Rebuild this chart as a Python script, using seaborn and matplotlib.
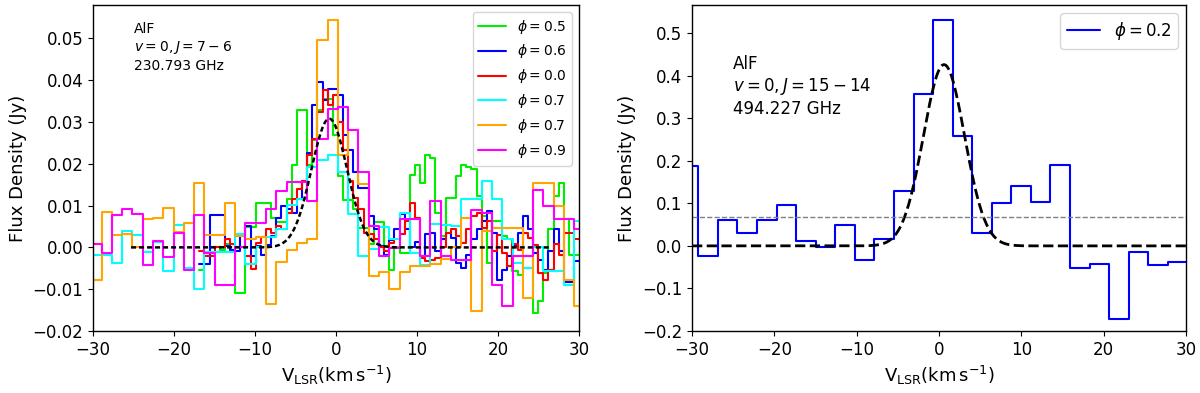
import numpy as np
import pandas as pd
import matplotlib
matplotlib.use("Agg")
import matplotlib.pyplot as plt
import seaborn as sns

# ---------------- data: left panel (AlF v=0, J=7-6) ----------------
# coarse channel grid (phi=0.7 cyan, phi=0.7 orange, phi=0.9 magenta)
v_coarse = [-29.56, -28.29, -27.02, -25.76, -24.49, -23.22, -21.95, -20.68,
            -19.42, -18.15, -16.88, -15.61, -14.34, -13.08, -11.81, -10.54,
            -9.27, -8.00, -6.74, -5.47, -4.20, -2.93, -1.66, -0.40,
            0.87, 2.14, 3.41, 4.68, 5.94, 7.21, 8.48, 9.75,
            11.02, 12.29, 13.55, 14.82, 16.09, 17.36, 18.62, 19.89,
            21.16, 22.43, 23.70, 24.96, 26.23, 27.50, 28.77, 30.04]

flux_cyan = [-0.0017, -0.0017, -0.0038, 0.0039, 0.0030, -0.0010, 0.0013, -0.0057,
             0.0053, -0.0049, -0.0099, -0.0010, -0.0010, -0.0010, 0.0031, -0.0039,
             0.0000, 0.0024, 0.0043, 0.0101, 0.0115, 0.0192, 0.0208, 0.0220,
             0.0180, 0.0079, -0.0021, -0.0003, 0.0049, 0.0020, 0.0083, -0.0013,
             -0.0041, 0.0055, 0.0053, 0.0051, 0.0115, 0.0115, 0.0160, 0.0117,
             0.0020, -0.0037, -0.0049, 0.0000, -0.0057, -0.0057, -0.0091, 0.0063]

flux_orange = [-0.0079, 0.0085, 0.0029, 0.0031, 0.0000, 0.0067, 0.0071, 0.0095,
               0.0038, 0.0058, 0.0155, 0.0030, 0.0030, 0.0106, 0.0027, 0.0020,
               0.0025, -0.0135, -0.0034, -0.0006, 0.0010, 0.0020, 0.0496, 0.0544,
               0.0222, 0.0280, 0.0151, -0.0069, -0.0059, -0.0099, -0.0059, -0.0045,
               -0.0045, -0.0040, -0.0027, 0.0000, 0.0071, -0.0151, 0.0040, 0.0047,
               0.0047, 0.0047, -0.0121, 0.0155, 0.0155, 0.0099, -0.0077, -0.0140]

flux_magenta = [0.0009, -0.0013, 0.0077, 0.0091, 0.0079, -0.0042, 0.0015, -0.0023,
                0.0034, -0.0053, 0.0078, -0.0013, -0.0089, -0.0089, 0.0000, 0.0058,
                0.0058, 0.0093, 0.0135, 0.0157, 0.0157, 0.0111, 0.0260, 0.0330,
                0.0336, 0.0280, 0.0180, 0.0051, -0.0020, -0.0002, 0.0069, 0.0069,
                -0.0020, 0.0111, -0.0020, -0.0029, -0.0029, 0.0090, 0.0083, -0.0089,
                -0.0139, -0.0020, -0.0020, 0.0138, 0.0099, 0.0067, 0.0067, 0.0043]

# fine channel grid (phi=0.5 green, phi=0.6 blue, phi=0.0 red)
v_fine = [-16.57, -15.93, -15.30, -14.66, -14.03, -13.40, -12.76, -12.13, -11.49, -10.86,
          -10.23, -9.59, -8.96, -8.32, -7.69, -7.06, -6.42, -5.79, -5.15, -4.52,
          -3.89, -3.25, -2.62, -1.98, -1.35, -0.72, -0.08, 0.55, 1.19, 1.82,
          2.45, 3.09, 3.72, 4.36, 4.99, 5.62, 6.26, 6.89, 7.53, 8.16,
          8.79, 9.43, 10.06, 10.70, 11.33, 11.96, 12.60, 13.23, 13.87, 14.50,
          15.13, 15.77, 16.40, 17.04, 17.67, 18.30, 18.94, 19.57, 20.21, 20.84,
          21.47, 22.11, 22.74, 23.38, 24.01, 24.64, 25.28, 25.91, 26.55, 27.18,
          27.81, 28.45, 29.08, 29.72]

flux_green = [-0.0053, -0.0010, 0.0000, 0.0000, -0.0005, 0.0008, -0.0005, -0.0110, -0.0110, 0.0050,
              0.0050, 0.0106, 0.0106, 0.0106, 0.0071, 0.0060, 0.0060, 0.0115, 0.0196, 0.0328,
              0.0328, 0.0196, 0.0256, 0.0328, 0.0356, 0.0356, 0.0268, 0.0171, 0.0113, 0.0113,
              0.0093, 0.0047, 0.0047, 0.0007, 0.0060, 0.0060, 0.0003, -0.0053, 0.0000, -0.0013,
              -0.0013, 0.0173, 0.0196, 0.0155, 0.0220, 0.0213, 0.0083, 0.0027, 0.0119, 0.0119,
              0.0171, 0.0198, 0.0192, 0.0188, 0.0123, 0.0075, -0.0037, 0.0063, 0.0063, 0.0027,
              0.0019, -0.0057, -0.0065, -0.0021, -0.0021, -0.0157, -0.0129, -0.0061, 0.0043, 0.0123,
              0.0155, 0.0067, -0.0017, -0.0017]

flux_blue = [-0.0040, -0.0040, 0.0077, 0.0077, 0.0077, 0.0003, -0.0005, -0.0009, 0.0027, 0.0051,
             -0.0021, 0.0003, -0.0019, 0.0005, 0.0027, 0.0071, 0.0098, 0.0093, 0.0083, 0.0115,
             0.0160, 0.0226, 0.0341, 0.0396, 0.0352, 0.0378, 0.0380, 0.0364, 0.0268, 0.0232,
             0.0180, 0.0141, 0.0141, 0.0075, 0.0043, 0.0003, -0.0019, 0.0018, 0.0043, 0.0079,
             0.0043, 0.0000, 0.0013, -0.0021, 0.0031, 0.0035, -0.0009, 0.0019, 0.0035, 0.0023,
             -0.0037, -0.0049, -0.0017, 0.0019, 0.0043, 0.0063, 0.0087, 0.0035, -0.0077, -0.0053,
             -0.0021, 0.0003, 0.0035, 0.0074, 0.0043, -0.0013, -0.0029, -0.0053, -0.0009, 0.0045,
             -0.0009, -0.0083, -0.0083, -0.0033]

flux_red = [-0.0009, -0.0021, -0.0021, 0.0000, 0.0002, 0.0019, 0.0007, 0.0000, 0.0000, -0.0021,
            -0.0051, 0.0011, 0.0026, 0.0043, 0.0035, 0.0051, 0.0043, 0.0083, 0.0115, 0.0139,
            0.0160, 0.0220, 0.0260, 0.0324, 0.0376, 0.0340, 0.0364, 0.0300, 0.0232, 0.0160,
            0.0119, 0.0091, 0.0035, 0.0031, 0.0021, 0.0000, -0.0009, 0.0011, 0.0019, 0.0031,
            0.0063, 0.0106, 0.0071, -0.0025, -0.0033, -0.0029, -0.0025, 0.0000, 0.0035, 0.0043,
            0.0027, 0.0011, 0.0043, 0.0075, 0.0083, 0.0047, 0.0063, -0.0009, 0.0029, -0.0013,
            -0.0045, 0.0007, -0.0005, 0.0035, 0.0023, 0.0005, -0.0061, -0.0079, -0.0053, 0.0007,
            -0.0017, 0.0035, 0.0035, 0.0019]

# Gaussian fit (amplitude, centre, sigma, extent)
fitL_amp, fitL_v0, fitL_sigma = 0.0308, -0.83, 2.2
fitL_vmin, fitL_vmax = -25.3, 26.5

# ---------------- data: right panel (AlF v=0, J=15-14) ----------------
v_right = [-30.42, -28.04, -25.67, -23.29, -20.92, -18.54, -16.16, -13.79, -11.41,
           -9.04, -6.66, -4.28, -1.91, 0.47, 2.84, 5.22, 7.60, 9.97, 12.35,
           14.72, 17.10, 19.48, 21.85, 24.23, 26.60, 28.98]
flux_right = [0.187, -0.0235, 0.061, 0.030, 0.061, 0.0965, 0.0125, -0.002, 0.049,
              -0.033, 0.017, 0.129, 0.358, 0.530, 0.259, 0.031, 0.100, 0.141, 0.104,
              0.190, -0.051, -0.042, -0.172, -0.015, -0.045, -0.037]
fitR_amp, fitR_v0, fitR_sigma = 0.426, 0.61, 2.5
fitR_vmin, fitR_vmax = -30.0, 30.0
noise_level_right = 0.068


def channel_steps(v, f):
    """Channel centres -> bin edges, so each channel is drawn over its full width."""
    v = np.asarray(v, float)
    f = np.asarray(f, float)
    mids = (v[:-1] + v[1:]) / 2
    edges = np.concatenate([[v[0] - (v[1] - v[0]) / 2], mids,
                            [v[-1] + (v[-1] - v[-2]) / 2]])
    return pd.DataFrame({"v": edges, "f": np.append(f, f[-1])})


# ---------------- style ----------------
sns.set_style("ticks")
plt.rcParams.update({
    "font.family": ["DejaVu Sans"],
    "axes.edgecolor": "black",
    "axes.linewidth": 1.0,
    "xtick.color": "black", "ytick.color": "black",
    "xtick.major.size": 3.5, "ytick.major.size": 3.5,
    "xtick.major.width": 0.8, "ytick.major.width": 0.8,
    "text.color": "black", "axes.labelcolor": "black",
    "xtick.labelsize": 12, "ytick.labelsize": 12,
    "mathtext.fontset": "dejavusans",
})

fig = plt.figure(figsize=(12, 3.93), dpi=100)
axL = fig.add_axes([93 / 1200, 1 - 331 / 393, 486 / 1200, 326 / 393])
axR = fig.add_axes([692 / 1200, 1 - 331 / 393, 494 / 1200, 326 / 393])

# ---- left panel spectra ----
series = [
    (v_fine, flux_green, "#00ee00", r"$\phi = 0.5$"),
    (v_fine, flux_blue, "#0000ff", r"$\phi = 0.6$"),
    (v_fine, flux_red, "#ff0000", r"$\phi = 0.0$"),
    (v_coarse, flux_cyan, "#00ffff", r"$\phi = 0.7$"),
    (v_coarse, flux_orange, "#ffa500", r"$\phi = 0.7$"),
    (v_coarse, flux_magenta, "#ff00ff", r"$\phi = 0.9$"),
]
for v, f, c, lab in series:
    sns.lineplot(data=channel_steps(v, f), x="v", y="f", color=c, label=lab, ax=axL,
                 drawstyle="steps-post", linewidth=1.5, estimator=None, sort=False)

vfitL = np.linspace(fitL_vmin, fitL_vmax, 400)
fitL = pd.DataFrame({"v": vfitL,
                     "f": fitL_amp * np.exp(-0.5 * ((vfitL - fitL_v0) / fitL_sigma) ** 2)})
sns.lineplot(data=fitL, x="v", y="f", color="black", ax=axL, linewidth=1.8,
             linestyle=(0, (2.0, 1.2)), estimator=None, sort=False, legend=False)

axL.set_xlim(-30, 30)
axL.set_ylim(-0.02, 0.058)
axL.set_xticks([-30, -20, -10, 0, 10, 20, 30])
axL.set_yticks([-0.02, -0.01, 0.0, 0.01, 0.02, 0.03, 0.04, 0.05])
axL.set_yticklabels(["\u22120.02", "\u22120.01", "0.00", "0.01", "0.02", "0.03", "0.04", "0.05"])
axL.set_xlabel(r"$\mathrm{V_{LSR}(km\,s^{-1})}$", fontsize=13)
axL.set_ylabel("Flux Density (Jy)", fontsize=13)
axL.text(0.085, 0.948, "AlF\n$v = 0, J = 7 - 6$\n230.793 GHz", transform=axL.transAxes,
         va="top", ha="left", fontsize=10, linespacing=1.25)
axL.legend(loc="upper right", fontsize=10, framealpha=0.8)

# ---- right panel ----
sns.lineplot(data=channel_steps(v_right, flux_right), x="v", y="f", color="#0000ff",
             ax=axR, label=r"$\phi = 0.2$", drawstyle="steps-post", linewidth=1.5,
             estimator=None, sort=False)
vfitR = np.linspace(fitR_vmin, fitR_vmax, 400)
fitR = pd.DataFrame({"v": vfitR,
                     "f": fitR_amp * np.exp(-0.5 * ((vfitR - fitR_v0) / fitR_sigma) ** 2)})
sns.lineplot(data=fitR, x="v", y="f", color="black", ax=axR, linewidth=2,
             linestyle="--", estimator=None, sort=False, legend=False)
axR.axhline(noise_level_right, color="gray", linestyle="--", linewidth=1)

axR.set_xlim(-30, 30)
axR.set_ylim(-0.2, 0.566)
axR.set_xticks([-30, -20, -10, 0, 10, 20, 30])
axR.set_yticks([-0.2, -0.1, 0.0, 0.1, 0.2, 0.3, 0.4, 0.5])
axR.set_yticklabels(["\u22120.2", "\u22120.1", "0.0", "0.1", "0.2", "0.3", "0.4", "0.5"])
axR.set_xlabel(r"$\mathrm{V_{LSR}(km\,s^{-1})}$", fontsize=13)
axR.set_ylabel("Flux Density (Jy)", fontsize=13)
axR.text(0.083, 0.847, "AlF\n$v = 0, J = 15 - 14$\n494.227 GHz", transform=axR.transAxes,
         va="top", ha="left", fontsize=12, linespacing=1.2)
axR.legend(loc="upper right", fontsize=12, framealpha=0.8)

for ax in (axL, axR):
    for s in ax.spines.values():
        s.set_visible(True)
        s.set_color("black")

fig.savefig("out.png", dpi=100)
